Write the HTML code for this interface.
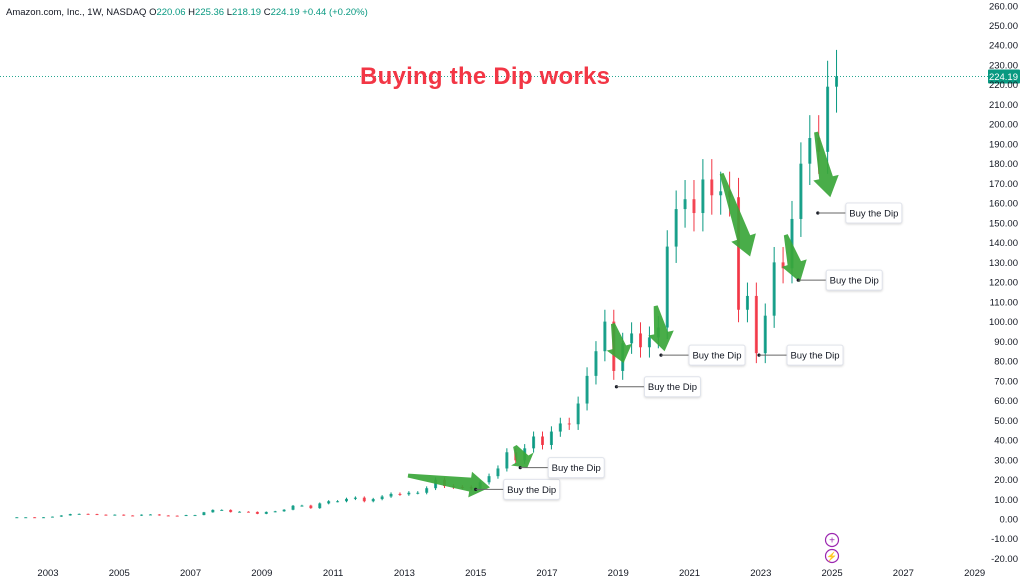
<!DOCTYPE html>
<html><head><meta charset="utf-8">
<style>
html,body{margin:0;padding:0;background:#fff;}
body{width:1024px;height:583px;overflow:hidden;font-family:"Liberation Sans",sans-serif;}
svg text{font-family:"Liberation Sans",sans-serif;}
</style></head>
<body>
<svg id="chart" width="1024" height="583" viewBox="0 0 1024 583">
<rect x="0" y="0" width="1024" height="583" fill="#fff"/>
<g id="candles"></g>
<g id="annot"></g>
<g id="yaxis"></g>
<g id="xaxis"></g>
<text x="6" y="15" font-size="9.5" fill="#131722">Amazon.com, Inc., 1W, NASDAQ  <tspan>O</tspan><tspan fill="#089981">220.06</tspan>  H<tspan fill="#089981">225.36</tspan>  L<tspan fill="#089981">218.19</tspan>  C<tspan fill="#089981">224.19</tspan>  <tspan fill="#089981">+0.44 (+0.20%)</tspan></text>
<text x="360" y="84" font-size="24" font-weight="bold" fill="#f23645" textLength="250">Buying the Dip works</text>
<g>
<circle cx="832" cy="540" r="6.5" fill="#fff" stroke="#9c27b0" stroke-width="1.2"/>
<text x="832" y="543.5" font-size="10" text-anchor="middle" fill="#9c27b0">+</text>
<circle cx="832" cy="556" r="6.5" fill="#fff" stroke="#9c27b0" stroke-width="1.2"/>
<text x="832" y="559.5" font-size="9" text-anchor="middle" fill="#9c27b0">⚡</text>
</g>
</svg>
<script>
const years = [2002,2003,2004,2005,2006,2007,2008,2009,2010,2011,2012,2013,2014,2015,2016,2017,2018,2019,2020,2021,2022,2023,2024];
const closes = [
0.9,0.9,0.8,0.9, 1.2,1.8,2.5,2.6, 2.5,2.2,1.9,2.2, 1.8,1.7,2.2,2.3,
1.8,1.7,1.6,2.0, 2.0,3.4,4.6,4.6, 3.5,3.7,3.6,2.6, 3.6,3.9,4.7,6.7,
6.8,5.5,7.9,9.0, 9.0,10.2,10.8,9.0, 10.1,11.4,12.7,12.5, 13.3,13.3,15.6,19.9,
16.7,16.2,16.1,15.5, 18.6,21.7,25.6,33.8, 29.7,35.8,41.8,37.5, 44.3,48.4,48.0,58.5,
72.5,85.0,100,75, 89,94,87,92, 97,138,157,162, 155,172,164,166,
163,106,113,84, 103,130,127,152, 180,193,186,219, 224.19];
const yTicks = [260,250,240,230,220,210,200,190,180,170,160,150,140,130,120,110,100,90,80,70,60,50,40,30,20,10,0,-10,-20];
const xTickYears = [2003,2005,2007,2009,2011,2013,2015,2017,2019,2021,2023,2025,2027,2029];
const dipDates = [2015.0,2016.25,2018.95,2020.2,2022.95,2024.05,2024.6];
const dipValues = [15,26,67,83,83,121,155];
const arrowStart = [[2013.1,22],[2016.1,37],[2018.85,99],[2020.05,108],[2021.9,175],[2023.7,144],[2024.55,196]];
const arrowEnd = [[2015.4,16],[2016.45,26],[2019.15,79],[2020.3,85],[2022.7,133],[2024.1,120],[2024.95,163]];
const lastPrice = 224.19;

const NS="http://www.w3.org/2000/svg";
const yS=v=>519-v*1.974;
const xS=t=>48+(t-2003)*35.64;
function mk(tag,attrs,parent){const e=document.createElementNS(NS,tag);for(const k in attrs)e.setAttribute(k,attrs[k]);parent.appendChild(e);return e;}

const yax=document.getElementById('yaxis');
yTicks.forEach(v=>{
  const t=mk('text',{x:1018,y:yS(v)+3.5,'font-size':9.5,'text-anchor':'end',fill:'#131722'},yax);
  
  
  t.textContent=v.toFixed(2);
});
const xax=document.getElementById('xaxis');
xTickYears.forEach(y=>{
  const t=mk('text',{x:xS(y),y:576,'font-size':9.5,'text-anchor':'middle',fill:'#131722'},xax);
  
  
  t.textContent=y;
});

const cg=document.getElementById('candles');
let prev=closes[0];
closes.forEach((c,i)=>{
  const t=years[0]+i/4+0.125;
  const o=i===0?c*0.95:prev;
  const hi=Math.max(o,c)*1.06, lo=Math.min(o,c)*0.94;
  const col=c>=o?'#089981':'#f23645';
  const x=xS(t);
  const g=mk('g',{},cg);
  
  
  mk('line',{x1:x,x2:x,y1:yS(hi),y2:yS(lo),stroke:col,'stroke-width':1},g);
  const top=yS(Math.max(o,c)),bot=yS(Math.min(o,c));
  mk('rect',{x:x-1.5,y:top,width:3,height:Math.max(1,bot-top),fill:col,opacity:0.85},g);
  prev=c;
});

const an=document.getElementById('annot');
const pl=mk('line',{x1:0,x2:988,y1:yS(lastPrice),y2:yS(lastPrice),stroke:'#089981','stroke-width':0.8,'stroke-dasharray':'1,2'},an);


const pg=mk('g',{},an);


mk('rect',{x:988,y:yS(lastPrice)-7,width:32,height:14,fill:'#089981',rx:1},pg);
const ptx=mk('text',{x:1018,y:yS(lastPrice)+3.5,'font-size':9.5,'text-anchor':'end',fill:'#fff'},pg);
ptx.textContent=lastPrice.toFixed(2);

arrowStart.forEach((s,i)=>{
  const x1=xS(s[0]),y1=yS(s[1]),x2=xS(arrowEnd[i][0]),y2=yS(arrowEnd[i][1]);
  const dx=x2-x1,dy=y2-y1,L=Math.hypot(dx,dy),ux=dx/L,uy=dy/L,nx=-uy,ny=ux;
  const hl=Math.min(20,L*0.4), bx=x2-ux*hl, by=y2-uy*hl;
  const w0=2,w1=7,hw=13;
  const pts=[[x1+nx*w0,y1+ny*w0],[bx+nx*w1,by+ny*w1],[bx+nx*hw,by+ny*hw],[x2,y2],[bx-nx*hw,by-ny*hw],[bx-nx*w1,by-ny*w1],[x1-nx*w0,y1-ny*w0]];
  const p=mk('polygon',{points:pts.map(q=>q.join(',')).join(' '),fill:'#3aa63a',opacity:0.92},an);
  
  
});

dipDates.forEach((d,i)=>{
  const x=xS(d),y=yS(dipValues[i]);
  const g=mk('g',{},an);
  
  
  mk('circle',{cx:x,cy:y,r:1.6,fill:'#131722'},g);
  mk('line',{x1:x,x2:x+28,y1:y,y2:y,stroke:'#666','stroke-width':1},g);
  mk('rect',{x:x+28,y:y-10,width:56,height:20,rx:2,fill:'#fff',stroke:'#e0e3eb','stroke-width':1,filter:'drop-shadow(0 1px 1px rgba(0,0,0,0.15))'},g);
  const t=mk('text',{x:x+56,y:y+3.5,'font-size':9.5,'text-anchor':'middle',fill:'#131722'},g);
  t.textContent='Buy the Dip';
});
</script>
</body></html>
